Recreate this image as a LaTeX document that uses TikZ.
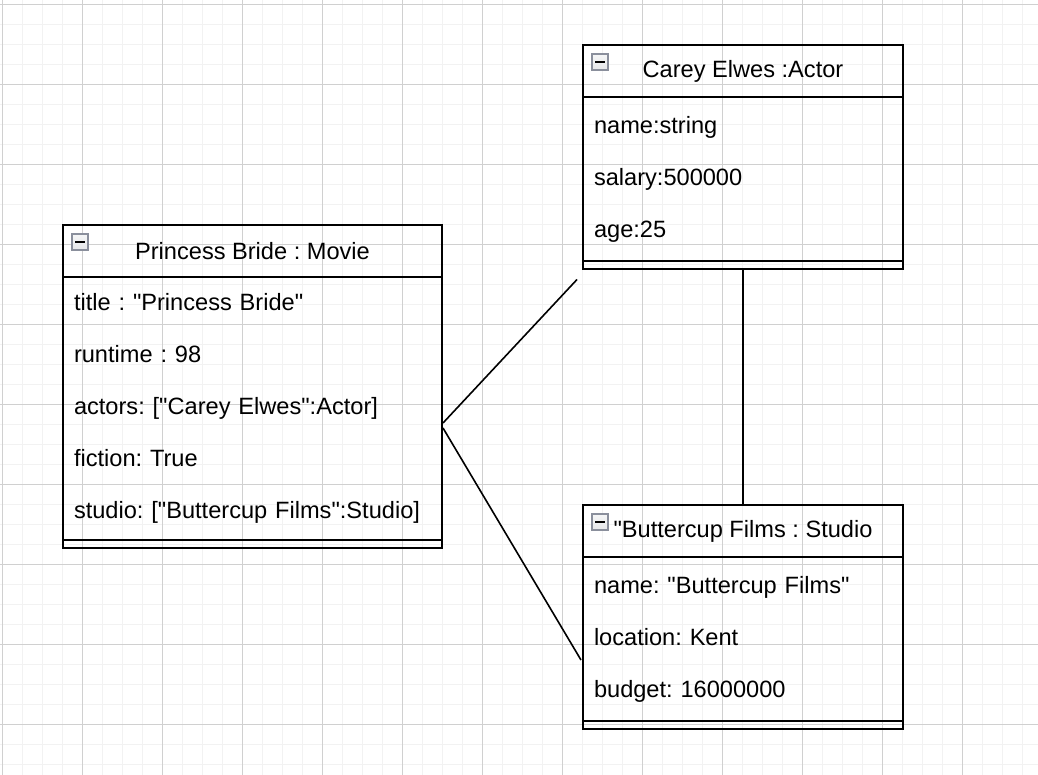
\documentclass[tikz,border=0pt]{standalone}
\usepackage{fontspec}
\setmainfont{Liberation Sans}[Ligatures=TeXOff]
\usepackage{tikz}
\usetikzlibrary{shapes,arrows,positioning}
\definecolor{gridminor}{RGB}{242,242,242}
\definecolor{gridmajor}{RGB}{208,208,208}
\definecolor{iconedge}{RGB}{138,143,156}
\definecolor{iconfill}{RGB}{200,202,208}
\frenchspacing
\tikzset{x=1pt,y=-1pt,node distance=0pt,
  every node/.style={font=\fontsize{23.6}{52}\selectfont,line width=2pt,outer sep=0pt},
  head/.style={draw,minimum height=52pt,inner sep=0pt,
    path picture={
      \draw[line width=1.2pt,draw=iconedge,top color=white,bottom color=iconfill]
        ([shift={(9pt,-9pt)}]path picture bounding box.north west) rectangle ++(16pt,-16pt);
      \draw[line width=2pt] ([shift={(12pt,-17pt)}]path picture bounding box.north west) -- ++(10pt,0pt);
    }},
  attrs/.style={draw,align=left,inner xsep=11pt,inner ysep=0pt},
  tail/.style={draw,minimum height=7.5pt,inner sep=0pt},
  link/.style={line width=1.6pt}}

\begin{document}
\begin{tikzpicture}
    \fill[white] (0,0) rectangle (1038,774);
    \useasboundingbox (0,0) rectangle (1038,774);
    \begin{scope}
    \clip (0,0) rectangle (1038,774);
    \begin{scope}[shift={(2.7pt,-4.3pt)}]
    \draw[gridminor,line width=1pt,step=20pt] (-20pt,-800pt) grid (1060pt,20pt);
    \draw[gridmajor,line width=1pt,step=80pt] (-80pt,-800pt) grid (1120pt,80pt);
    \end{scope}
    \end{scope}

    % movie
    \node[head,minimum width=379pt,anchor=north west] (movie) at (63,225) {Princess Bride : Movie};
    \node[attrs,text width=357pt,minimum height=263pt,below=of movie] (movie-attr)
      {title : "Princess Bride"\\ runtime : 98\\ actors: ["Carey Elwes":Actor]\\ fiction: True\\ studio: ["Buttercup Films":Studio]};
    \node[tail,minimum width=379pt,below=of movie-attr] (movie-end) {};

    % actor
    \node[head,minimum width=320pt,anchor=north west] (actor) at (583,45) {Carey Elwes :Actor};
    \node[attrs,text width=298pt,minimum height=164pt,below=of actor] (actor-attr)
      {name:string\\ salary:500000\\ age:25};
    \node[tail,minimum width=320pt,below=of actor-attr] (actor-end) {};

    % studio
    \node[head,minimum width=320pt,anchor=north west] (studio) at (583,505) {"Buttercup Films : Studio};
    \node[attrs,text width=298pt,minimum height=164pt,below=of studio] (studio-attr)
      {name: "Buttercup Films"\\ location: Kent\\ budget: 16000000};
    \node[tail,minimum width=320pt,below=of studio-attr] (studio-end) {};

    \coordinate (movie-a) at ([shift={(1pt,-14.5pt)}]movie-attr.east);
    \coordinate (movie-s) at ([shift={(1pt,-19.5pt)}]movie-attr.east);
    \coordinate (actor-gap) at ([shift={(-6pt,-11pt)}]actor-end.south west);
    \coordinate (studio-gap) at ([shift={(-2pt,-21pt)}]studio-attr.west);
    \path[link]
    (movie-a) edge (actor-gap)
    (movie-s) edge (studio-gap)
    (actor-end) edge (studio)
    ;
\end{tikzpicture}
\end{document}
